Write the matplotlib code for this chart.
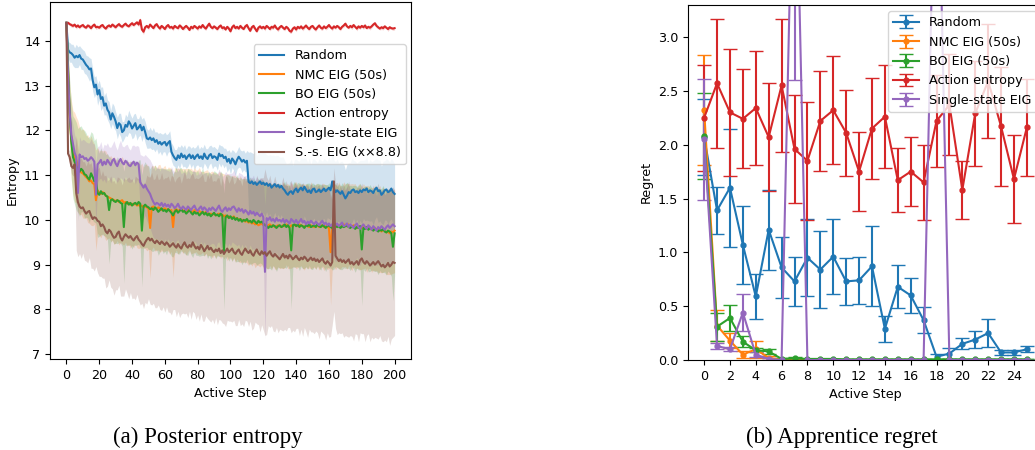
import numpy as np
import matplotlib
matplotlib.use("Agg")
import matplotlib.pyplot as plt

# ---------------- Left panel data: posterior entropy vs active step ----------------
steps_left = list(range(0, 201))

random_mean = [
    14.40, 13.80, 13.74, 13.72, 13.68, 13.62, 13.66, 13.63, 13.68, 13.60,
    13.58, 13.52, 13.46, 13.42, 13.36, 13.38, 13.12, 12.96, 13.02, 12.80,
    12.90, 12.70, 12.74, 12.55, 12.60, 12.46, 12.40, 12.24, 12.38, 12.30,
    12.20, 12.05, 12.16, 12.12, 11.96, 12.00, 12.12, 12.08, 12.20, 12.14,
    12.04, 12.10, 12.16, 12.02, 12.06, 12.12, 12.00, 12.08, 11.96, 11.82,
    11.80, 11.84, 11.78, 11.82, 11.74, 11.78, 11.70, 11.74, 11.68, 11.72,
    11.74, 11.66, 11.72, 11.76, 11.52, 11.44, 11.38, 11.34, 11.44, 11.38,
    11.48, 11.40, 11.44, 11.36, 11.42, 11.46, 11.38, 11.44, 11.36, 11.42,
    11.46, 11.38, 11.42, 11.36, 11.48, 11.40, 11.36, 11.44, 11.47, 11.38,
    11.42, 11.40, 11.34, 11.48, 11.42, 11.45, 11.38, 11.41, 11.30, 11.36,
    11.26, 11.37, 11.32, 11.24, 11.34, 11.41, 11.36, 11.30, 11.34, 11.28,
    11.32, 10.85, 10.82, 10.86, 10.80, 10.84, 10.78, 10.82, 10.86, 10.80,
    10.83, 10.78, 10.82, 10.76, 10.80, 10.72, 10.76, 10.80, 10.74, 10.78,
    10.72, 10.76, 10.70, 10.66, 10.60, 10.56, 10.62, 10.64, 10.58, 10.66,
    10.70, 10.62, 10.68, 10.72, 10.66, 10.74, 10.68, 10.62, 10.66, 10.60,
    10.68, 10.70, 10.62, 10.64, 10.68, 10.62, 10.66, 10.70, 10.64, 10.68,
    10.72, 10.66, 10.86, 10.70, 10.62, 10.66, 10.62, 10.58, 10.64, 10.56,
    10.48, 10.54, 10.62, 10.60, 10.66, 10.68, 10.62, 10.64, 10.60, 10.66,
    10.62, 10.68, 10.66, 10.70, 10.62, 10.66, 10.64, 10.60, 10.68, 10.72,
    10.64, 10.66, 10.56, 10.60, 10.66, 10.68, 10.62, 10.64, 10.70, 10.62,
    10.58]
random_sd = [
    0.00, 0.18, 0.22, 0.20, 0.24, 0.22, 0.26, 0.23, 0.21, 0.24,
    0.22, 0.25, 0.21, 0.24, 0.26, 0.22, 0.25, 0.23, 0.20, 0.24,
    0.22, 0.26, 0.23, 0.21, 0.25, 0.22, 0.24, 0.20, 0.23, 0.25,
    0.21, 0.24, 0.22, 0.26, 0.23, 0.20, 0.24, 0.22, 0.25, 0.21,
    0.23, 0.26, 0.22, 0.24, 0.20, 0.23, 0.25, 0.21, 0.24, 0.22,
    0.20, 0.23, 0.21, 0.24, 0.22, 0.19, 0.23, 0.21, 0.24, 0.20,
    0.22, 0.24, 0.21, 0.23, 0.20, 0.22, 0.19, 0.23, 0.21, 0.24,
    0.20, 0.22, 0.24, 0.21, 0.23, 0.19, 0.22, 0.20, 0.24, 0.21,
    0.23, 0.20, 0.22, 0.24, 0.21, 0.19, 0.23, 0.21, 0.20, 0.24,
    0.22, 0.20, 0.23, 0.21, 0.24, 0.20, 0.22, 0.19, 0.23, 0.21,
    0.24, 0.20, 0.22, 0.25, 0.21, 0.23, 0.20, 0.24, 0.22, 0.21,
    0.23, 0.66, 0.70, 0.64, 0.68, 0.72, 0.65, 0.69, 0.63, 0.70,
    0.67, 0.71, 0.64, 0.68, 0.66, 0.72, 0.69, 0.63, 0.70, 0.66,
    0.68, 0.64, 0.71, 0.67, 0.65, 0.70, 0.66, 0.72, 0.64, 0.69,
    0.66, 0.70, 0.63, 0.68, 0.71, 0.65, 0.69, 0.67, 0.72, 0.64,
    0.68, 0.66, 0.70, 0.64, 0.69, 0.72, 0.65, 0.67, 0.70, 0.63,
    0.69, 0.66, 0.71, 0.64, 0.68, 0.70, 0.65, 0.72, 0.67, 0.69,
    0.64, 0.70, 0.66, 0.68, 0.72, 0.65, 0.69, 0.63, 0.70, 0.67,
    0.71, 0.65, 0.68, 0.70, 0.64, 0.69, 0.66, 0.72, 0.67, 0.65,
    0.70, 0.68, 0.64, 0.71, 0.66, 0.69, 0.72, 0.65, 0.68, 0.70,
    0.67]

nmc_mean = [
    14.40, 13.30, 12.30, 11.80, 11.50, 11.40, 11.34, 11.20, 11.10, 11.06,
    11.04, 11.00, 10.96, 10.92, 10.86, 10.88, 10.82, 10.80, 10.44, 10.66,
    10.60, 10.58, 10.62, 10.60, 10.54, 10.52, 10.50, 10.48, 10.46, 10.44,
    10.42, 10.44, 10.40, 10.42, 10.44, 10.38, 10.40, 10.36, 10.38, 10.34,
    10.36, 10.34, 10.37, 10.32, 10.34, 10.30, 10.32, 10.28, 10.30, 10.28,
    10.26, 9.82, 10.28, 10.30, 10.26, 10.24, 10.28, 10.26, 10.22, 10.24,
    10.26, 10.22, 10.24, 10.20, 10.22, 9.84, 10.22, 10.24, 10.20, 10.22,
    10.24, 10.20, 10.22, 10.18, 10.22, 10.24, 10.20, 10.18, 10.22, 10.20,
    10.18, 10.20, 10.16, 10.18, 10.14, 10.18, 10.16, 10.12, 10.14, 10.12,
    10.14, 10.10, 10.12, 10.14, 10.10, 10.12, 10.08, 10.10, 10.06, 10.08,
    10.06, 10.04, 10.08, 10.02, 10.04, 10.00, 10.02, 9.98, 10.00, 9.96,
    9.98, 9.94, 9.96, 9.92, 9.94, 9.90, 9.92, 9.88, 9.90, 9.92,
    9.88, 9.90, 9.86, 9.88, 9.90, 9.86, 9.88, 9.84, 9.86, 9.88,
    9.86, 9.84, 9.88, 9.86, 9.90, 9.86, 9.84, 9.88, 9.86, 9.90,
    9.88, 9.86, 9.90, 9.88, 9.86, 9.84, 9.88, 9.86, 9.84, 9.88,
    9.86, 9.84, 9.86, 9.88, 9.84, 9.86, 9.88, 9.84, 9.86, 9.84,
    9.82, 9.28, 9.86, 9.88, 9.84, 9.86, 9.88, 9.84, 9.86, 9.90,
    9.88, 9.86, 9.90, 9.86, 9.84, 9.88, 9.86, 9.82, 9.86, 9.84,
    9.82, 9.86, 9.84, 9.80, 9.84, 9.82, 9.78, 9.80, 9.82, 9.78,
    9.76, 9.80, 9.74, 9.78, 9.76, 9.72, 9.74, 9.70, 9.74, 9.72,
    9.76]
nmc_sd = [
    0.00, 0.50, 0.75, 0.88, 0.94, 1.00, 0.96, 1.02, 0.98, 0.94,
    1.00, 0.96, 0.92, 0.98, 0.94, 1.00, 0.95, 0.90, 1.12, 0.96,
    0.94, 0.98, 0.92, 0.96, 1.00, 0.94, 0.90, 0.96, 0.92, 0.98,
    0.94, 0.90, 0.96, 0.92, 0.98, 0.94, 0.90, 0.95, 0.92, 0.97,
    0.93, 0.96, 0.90, 0.94, 0.98, 0.92, 0.95, 0.90, 0.94, 0.97,
    0.92, 1.12, 0.94, 0.90, 0.96, 0.92, 0.95, 0.98, 0.91, 0.94,
    0.96, 0.90, 0.94, 0.97, 0.92, 1.12, 0.95, 0.91, 0.96, 0.93,
    0.90, 0.95, 0.92, 0.97, 0.93, 0.90, 0.96, 0.92, 0.95, 0.91,
    0.94, 0.97, 0.92, 0.90, 0.95, 0.93, 0.96, 0.91, 0.94, 0.97,
    0.92, 0.95, 0.90, 0.94, 0.96, 0.92, 0.95, 0.91, 0.97, 0.93,
    0.90, 0.95, 0.92, 0.96, 0.91, 0.94, 0.97, 0.92, 0.95, 0.90,
    0.94, 0.96, 0.92, 0.95, 0.91, 0.97, 0.93, 0.90, 0.95, 0.92,
    0.96, 0.91, 0.94, 0.97, 0.92, 0.95, 0.90, 0.94, 0.96, 0.92,
    0.95, 0.91, 0.97, 0.93, 0.90, 0.95, 0.92, 0.96, 0.91, 0.94,
    0.97, 0.92, 0.95, 0.90, 0.94, 0.96, 0.92, 0.95, 0.91, 0.97,
    0.93, 0.90, 0.95, 0.92, 0.96, 0.91, 0.94, 0.97, 0.92, 0.95,
    0.90, 1.18, 0.96, 0.92, 0.95, 0.91, 0.97, 0.93, 0.90, 0.95,
    0.92, 0.96, 0.91, 0.94, 0.97, 0.92, 0.95, 0.90, 0.94, 0.96,
    0.92, 0.95, 0.91, 0.97, 0.93, 0.90, 0.95, 0.92, 0.96, 0.91,
    0.94, 0.97, 0.92, 0.95, 0.90, 0.94, 0.96, 0.92, 0.95, 0.91,
    0.94]

bo_mean = [
    14.40, 13.40, 12.40, 11.75, 11.40, 11.30, 11.20, 11.10, 11.08, 11.14,
    11.10, 11.02, 11.00, 10.94, 10.90, 11.04, 10.96, 10.86, 10.88, 10.60,
    10.56, 10.64, 10.58, 10.60, 10.54, 10.52, 10.22, 10.44, 10.46, 10.42,
    10.40, 10.44, 10.42, 10.38, 10.36, 9.84, 10.36, 10.40, 10.34, 10.38,
    10.32, 10.36, 10.38, 10.34, 10.40, 10.36, 9.76, 10.30, 10.34, 10.30,
    10.28, 10.24, 10.26, 10.22, 10.28, 10.24, 10.18, 10.22, 10.26, 10.20,
    10.22, 10.18, 10.24, 10.20, 10.16, 10.10, 10.18, 10.22, 10.16, 10.20,
    10.24, 10.18, 10.20, 10.14, 10.18, 10.22, 10.16, 10.12, 10.18, 10.14,
    10.16, 10.10, 10.14, 10.18, 10.12, 10.16, 10.10, 10.14, 10.08, 10.12,
    10.16, 10.10, 10.12, 10.08, 10.14, 10.10, 9.30, 10.06, 10.10, 10.04,
    10.08, 10.02, 10.06, 10.00, 10.04, 9.98, 10.02, 9.96, 10.00, 9.98,
    10.02, 9.96, 9.98, 9.94, 10.00, 9.96, 9.92, 9.98, 9.94, 9.96,
    9.92, 9.88, 9.86, 9.82, 9.86, 9.84, 9.88, 9.86, 9.82, 9.86,
    9.88, 9.84, 9.86, 9.90, 9.84, 9.88, 9.82, 9.32, 9.88, 9.90,
    9.86, 9.90, 9.84, 9.88, 9.86, 9.82, 9.88, 9.86, 9.90, 9.84,
    9.86, 9.88, 9.84, 9.90, 9.86, 9.84, 9.88, 9.86, 9.82, 9.86,
    9.88, 9.84, 9.82, 9.86, 9.88, 9.84, 9.86, 9.82, 9.86, 9.84,
    9.86, 9.88, 9.84, 9.82, 9.86, 9.84, 9.80, 9.84, 9.82, 9.86,
    9.34, 9.82, 9.80, 9.84, 9.78, 9.82, 9.80, 9.76, 9.80, 9.78,
    9.74, 9.78, 9.76, 9.80, 9.74, 9.72, 9.76, 9.74, 9.70, 9.40,
    9.70]
bo_sd = [
    0.00, 0.48, 0.72, 0.86, 0.92, 0.96, 0.98, 0.94, 1.00, 0.96,
    0.92, 0.98, 0.94, 0.90, 0.96, 0.93, 0.97, 0.91, 0.95, 0.99,
    0.93, 0.97, 0.91, 0.95, 0.92, 0.96, 1.20, 0.94, 0.90, 0.96,
    0.92, 0.97, 0.93, 0.90, 0.95, 1.25, 0.93, 0.96, 0.91, 0.94,
    0.97, 0.92, 0.95, 0.90, 0.94, 0.98, 1.25, 0.93, 0.96, 0.91,
    0.94, 0.90, 0.96, 0.92, 0.95, 0.91, 0.97, 0.93, 0.90, 0.95,
    0.92, 0.96, 0.90, 0.94, 0.97, 0.93, 0.91, 0.95, 0.92, 0.96,
    0.93, 0.90, 0.95, 0.92, 0.97, 0.91, 0.94, 0.96, 0.90, 0.93,
    0.95, 0.91, 0.94, 0.97, 0.92, 0.90, 0.96, 0.93, 0.95, 0.91,
    0.94, 0.97, 0.92, 0.90, 0.95, 0.93, 1.30, 0.94, 0.91, 0.96,
    0.92, 0.95, 0.90, 0.94, 0.97, 0.91, 0.93, 0.96, 0.92, 0.95,
    0.90, 0.94, 0.97, 0.92, 0.95, 0.91, 0.93, 0.96, 0.90, 0.94,
    0.97, 0.92, 0.95, 0.91, 0.94, 0.96, 0.90, 0.93, 0.97, 0.92,
    0.95, 0.91, 0.94, 0.96, 0.92, 0.90, 0.95, 1.30, 0.93, 0.96,
    0.91, 0.94, 0.97, 0.92, 0.95, 0.90, 0.93, 0.96, 0.92, 0.94,
    0.97, 0.91, 0.95, 0.92, 0.94, 0.96, 0.90, 0.93, 0.97, 0.92,
    0.95, 0.91, 0.94, 0.96, 0.92, 0.90, 0.95, 0.93, 0.97, 0.91,
    0.94, 0.96, 0.92, 0.95, 0.90, 0.93, 0.97, 0.91, 0.94, 0.96,
    1.25, 0.92, 0.95, 0.91, 0.94, 0.97, 0.92, 0.90, 0.95, 0.93,
    0.96, 0.91, 0.94, 0.97, 0.92, 0.95, 0.90, 0.93, 0.96, 1.20,
    0.94]

action_mean = [
    14.38, 14.40, 14.37, 14.35, 14.33, 14.36, 14.31, 14.34, 14.30, 14.33,
    14.35, 14.31, 14.29, 14.34, 14.32, 14.28, 14.33, 14.36, 14.30, 14.31,
    14.29, 14.33, 14.35, 14.30, 14.27, 14.32, 14.34, 14.31, 14.36, 14.33,
    14.30, 14.34, 14.37, 14.33, 14.31, 14.35, 14.38, 14.34, 14.32, 14.36,
    14.39, 14.35, 14.38, 14.41, 14.36, 14.46, 14.25, 14.20, 14.30, 14.33,
    14.29, 14.36, 14.32, 14.28, 14.34, 14.37, 14.31, 14.27, 14.33, 14.30,
    14.26, 14.32, 14.35, 14.29, 14.31, 14.27, 14.33, 14.30, 14.28, 14.34,
    14.31, 14.26, 14.30, 14.33, 14.29, 14.24, 14.31, 14.28, 14.33, 14.30,
    14.27, 14.32, 14.29, 14.35, 14.30, 14.27, 14.33, 14.38, 14.31, 14.28,
    14.32, 14.29, 14.26, 14.31, 14.34, 14.28, 14.30, 14.25, 14.31, 14.27,
    14.21, 14.30, 14.34, 14.28, 14.31, 14.27, 14.33, 14.29, 14.26, 14.32,
    14.35, 14.28, 14.22, 14.30, 14.33, 14.27, 14.21, 14.29, 14.32, 14.28,
    14.31, 14.27, 14.33, 14.30, 14.26, 14.31, 14.29, 14.34, 14.28, 14.25,
    14.30, 14.33, 14.29, 14.26, 14.31, 14.28, 14.22, 14.20, 14.27, 14.30,
    14.25, 14.31, 14.28, 14.32, 14.27, 14.30, 14.34, 14.29, 14.26, 14.31,
    14.33, 14.28, 14.25, 14.30, 14.34, 14.29, 14.27, 14.32, 14.28, 14.31,
    14.35, 14.30, 14.27, 14.32, 14.29, 14.33, 14.30, 14.26, 14.31, 14.34,
    14.38, 14.32, 14.29, 14.33, 14.30, 14.35, 14.31, 14.27, 14.32, 14.29,
    14.33, 14.30, 14.34, 14.28, 14.31, 14.29, 14.32, 14.36, 14.39, 14.33,
    14.30, 14.27, 14.30, 14.28, 14.32, 14.29, 14.26, 14.30, 14.28, 14.27,
    14.28]
action_sd = [
    0.00, 0.04, 0.03, 0.05, 0.04, 0.03, 0.05, 0.04, 0.04, 0.03,
    0.05, 0.04, 0.03, 0.04, 0.05, 0.04, 0.03, 0.04, 0.05, 0.04,
    0.03, 0.05, 0.04, 0.04, 0.03, 0.05, 0.04, 0.03, 0.04, 0.05,
    0.04, 0.03, 0.05, 0.04, 0.04, 0.03, 0.05, 0.04, 0.03, 0.04,
    0.05, 0.04, 0.03, 0.04, 0.05, 0.06, 0.05, 0.06, 0.04, 0.03,
    0.05, 0.04, 0.03, 0.04, 0.05, 0.04, 0.03, 0.05, 0.04, 0.04,
    0.03, 0.05, 0.04, 0.03, 0.04, 0.05, 0.04, 0.03, 0.04, 0.05,
    0.04, 0.03, 0.05, 0.04, 0.04, 0.03, 0.05, 0.04, 0.03, 0.04,
    0.05, 0.04, 0.03, 0.04, 0.05, 0.04, 0.03, 0.05, 0.04, 0.04,
    0.03, 0.05, 0.04, 0.03, 0.04, 0.05, 0.04, 0.03, 0.04, 0.05,
    0.04, 0.03, 0.05, 0.04, 0.04, 0.03, 0.05, 0.04, 0.03, 0.04,
    0.05, 0.04, 0.03, 0.04, 0.05, 0.04, 0.03, 0.05, 0.04, 0.04,
    0.03, 0.05, 0.04, 0.03, 0.04, 0.05, 0.04, 0.03, 0.04, 0.05,
    0.04, 0.03, 0.05, 0.04, 0.04, 0.03, 0.05, 0.04, 0.03, 0.04,
    0.05, 0.04, 0.03, 0.04, 0.05, 0.04, 0.03, 0.05, 0.04, 0.04,
    0.03, 0.05, 0.04, 0.03, 0.04, 0.05, 0.04, 0.03, 0.04, 0.05,
    0.04, 0.03, 0.05, 0.04, 0.04, 0.03, 0.05, 0.04, 0.03, 0.04,
    0.05, 0.04, 0.03, 0.04, 0.05, 0.04, 0.03, 0.05, 0.04, 0.04,
    0.03, 0.05, 0.04, 0.03, 0.04, 0.05, 0.04, 0.03, 0.04, 0.05,
    0.04, 0.03, 0.05, 0.04, 0.04, 0.03, 0.05, 0.04, 0.03, 0.04,
    0.04]

single_mean = [
    14.40, 13.20, 12.40, 11.90, 11.70, 11.50, 11.40, 10.60, 11.46, 11.40,
    11.42, 11.36, 11.38, 11.32, 11.35, 11.40, 11.36, 11.30, 10.56, 11.24,
    11.28, 11.34, 11.22, 11.30, 11.24, 11.34, 11.28, 11.22, 11.32, 11.36,
    11.26, 11.20, 11.30, 11.36, 11.28, 11.24, 11.32, 11.28, 11.22, 11.20,
    11.26, 11.30, 11.22, 11.28, 11.24, 10.84, 10.78, 10.72, 10.78, 10.70,
    10.64, 10.58, 10.48, 10.40, 10.34, 10.38, 10.36, 10.32, 10.38, 10.30,
    10.36, 10.30, 10.34, 10.28, 10.36, 10.32, 10.26, 10.30, 10.36, 10.28,
    10.24, 10.30, 10.26, 10.22, 10.30, 10.26, 10.22, 10.28, 10.32, 10.24,
    10.20, 10.26, 10.30, 10.22, 10.28, 10.24, 10.18, 10.26, 10.22, 10.28,
    10.24, 10.20, 10.26, 10.32, 10.22, 10.18, 10.24, 10.28, 10.20, 10.26,
    10.22, 10.28, 10.30, 10.24, 10.18, 10.26, 10.20, 10.24, 10.16, 10.22,
    10.18, 10.12, 10.20, 10.14, 10.18, 10.10, 10.16, 10.12, 10.08, 10.14,
    10.06, 8.84, 10.04, 10.00, 10.06, 9.98, 10.02, 9.96, 10.04, 9.98,
    10.00, 9.96, 10.02, 9.94, 10.00, 9.96, 9.92, 10.02, 9.98, 9.94,
    10.00, 9.92, 9.96, 10.02, 9.94, 9.98, 9.90, 9.96, 9.92, 9.98,
    9.94, 9.90, 9.96, 9.92, 9.88, 9.94, 9.98, 9.90, 9.94, 9.88,
    9.92, 9.86, 9.90, 9.96, 9.88, 9.92, 9.86, 9.90, 9.94, 9.86,
    9.88, 9.92, 9.84, 9.90, 9.86, 9.82, 9.88, 9.92, 9.84, 9.80,
    9.86, 9.90, 9.84, 9.80, 9.88, 9.84, 9.78, 9.86, 9.82, 9.76,
    9.84, 9.80, 9.86, 9.82, 9.78, 9.84, 9.88, 9.82, 9.86, 9.90,
    9.86]
single_sd = [
    0.00, 0.30, 0.36, 0.40, 0.42, 0.40, 0.38, 0.62, 0.40, 0.36,
    0.38, 0.42, 0.36, 0.40, 0.37, 0.41, 0.35, 0.39, 0.70, 0.40,
    0.37, 0.41, 0.36, 0.39, 0.42, 0.38, 0.35, 0.40, 0.37, 0.41,
    0.38, 0.36, 0.40, 0.42, 0.37, 0.39, 0.35, 0.41, 0.38, 0.36,
    0.40, 0.37, 0.42, 0.38, 0.40, 0.62, 0.66, 0.70, 0.68, 0.72,
    0.74, 0.76, 0.78, 0.80, 0.76, 0.79, 0.82, 0.77, 0.80, 0.83,
    0.78, 0.81, 0.76, 0.80, 0.83, 0.78, 0.82, 0.77, 0.80, 0.84,
    0.79, 0.76, 0.81, 0.78, 0.83, 0.80, 0.77, 0.82, 0.79, 0.76,
    0.81, 0.84, 0.78, 0.80, 0.77, 0.82, 0.79, 0.83, 0.76, 0.80,
    0.78, 0.82, 0.77, 0.81, 0.84, 0.79, 0.76, 0.80, 0.83, 0.78,
    0.81, 0.77, 0.82, 0.79, 0.76, 0.80, 0.84, 0.78, 0.81, 0.77,
    0.83, 0.79, 0.76, 0.80, 0.82, 0.78, 0.81, 0.77, 0.84, 0.79,
    0.80, 1.50, 0.82, 0.78, 0.81, 0.77, 0.83, 0.79, 0.76, 0.80,
    0.82, 0.78, 0.81, 0.84, 0.77, 0.80, 0.79, 0.83, 0.76, 0.81,
    0.78, 0.82, 0.77, 0.80, 0.84, 0.79, 0.76, 0.81, 0.78, 0.83,
    0.80, 0.77, 0.82, 0.79, 0.76, 0.80, 0.84, 0.78, 0.81, 0.77,
    0.83, 0.79, 0.76, 0.80, 0.82, 0.78, 0.81, 0.77, 0.84, 0.79,
    0.80, 0.82, 0.78, 0.81, 0.77, 0.83, 0.79, 0.76, 0.80, 0.82,
    0.78, 0.81, 0.84, 0.77, 0.80, 0.79, 0.83, 0.76, 0.81, 0.78,
    0.82, 0.77, 0.80, 0.84, 0.79, 0.76, 0.81, 0.78, 0.83, 0.80,
    0.79]

ssx_mean = [
    14.40, 11.48, 11.40, 11.20, 11.16, 11.24, 10.60, 10.40, 10.30, 10.26,
    10.28, 10.20, 10.14, 10.18, 10.20, 10.10, 10.02, 10.06, 10.04, 9.98,
    9.96, 9.86, 9.90, 9.84, 9.74, 9.70, 9.78, 9.74, 9.66, 9.60,
    9.62, 9.70, 9.74, 9.60, 9.54, 9.62, 9.68, 9.64, 9.60, 9.64,
    9.58, 9.54, 9.60, 9.64, 9.56, 9.52, 9.46, 9.42, 9.50, 9.56,
    9.60, 9.54, 9.58, 9.52, 9.48, 9.54, 9.50, 9.46, 9.52, 9.48,
    9.44, 9.50, 9.46, 9.40, 9.44, 9.48, 9.42, 9.38, 9.46, 9.40,
    9.36, 9.44, 9.50, 9.42, 9.38, 9.44, 9.40, 9.50, 9.42, 9.36,
    9.40, 9.34, 9.44, 9.38, 9.30, 9.36, 9.42, 9.34, 9.38, 9.32,
    9.28, 9.34, 9.30, 9.36, 9.26, 9.32, 9.24, 9.30, 9.36, 9.28,
    9.32, 9.36, 9.28, 9.24, 9.30, 9.34, 9.26, 9.22, 9.30, 9.36,
    9.30, 9.26, 9.32, 9.24, 9.20, 9.28, 9.34, 9.26, 9.22, 9.30,
    9.24, 9.28, 9.20, 9.26, 9.30, 9.22, 9.18, 9.24, 9.20, 9.16,
    9.12, 9.18, 9.24, 9.16, 9.20, 9.14, 9.22, 9.18, 9.12, 9.16,
    9.20, 9.14, 9.10, 9.16, 9.12, 9.18, 9.14, 9.08, 9.12, 9.16,
    9.10, 9.14, 9.08, 9.12, 9.06, 9.10, 9.14, 9.06, 9.02, 9.08,
    9.04, 8.98, 9.06, 10.86, 9.20, 9.14, 9.08, 9.12, 9.06, 9.10,
    9.04, 9.08, 9.12, 9.02, 9.06, 9.00, 9.04, 9.08, 9.00, 9.10,
    9.14, 9.06, 9.02, 9.08, 9.04, 8.98, 9.02, 9.06, 9.00, 9.04,
    9.08, 9.02, 8.96, 9.00, 8.94, 8.98, 9.04, 8.96, 9.00, 9.06,
    9.04]
# spread below the mean (lower edge of the shaded band)
ssx_sd_low = [
    0.00, 0.10, 0.14, 0.16, 0.18, 0.22, 1.28, 1.22, 1.05, 1.12,
    1.02, 1.10, 1.06, 1.14, 1.04, 1.18, 1.10, 1.20, 1.08, 1.16,
    1.22, 1.12, 1.20, 1.14, 1.26, 1.18, 1.12, 1.24, 1.20, 1.28,
    1.18, 1.26, 1.20, 1.30, 1.24, 1.32, 1.22, 1.28, 1.36, 1.26,
    1.34, 1.28, 1.38, 1.30, 1.36, 1.42, 1.32, 1.40, 1.34, 1.44,
    1.36, 1.42, 1.48, 1.38, 1.44, 1.50, 1.40, 1.46, 1.54, 1.42,
    1.50, 1.44, 1.52, 1.46, 1.56, 1.48, 1.42, 1.54, 1.50, 1.58,
    1.46, 1.52, 1.60, 1.50, 1.56, 1.48, 1.62, 1.54, 1.50, 1.58,
    1.52, 1.60, 1.54, 1.64, 1.56, 1.50, 1.62, 1.58, 1.66, 1.54,
    1.60, 1.52, 1.64, 1.58, 1.50, 1.62, 1.56, 1.68, 1.60, 1.54,
    1.58, 1.64, 1.52, 1.60, 1.66, 1.56, 1.62, 1.54, 1.68, 1.60,
    1.56, 1.64, 1.58, 1.70, 1.62, 1.56, 1.66, 1.60, 1.72, 1.64,
    1.70, 1.86, 1.76, 1.62, 1.70, 1.58, 1.66, 1.74, 1.60, 1.68,
    1.56, 1.64, 1.72, 1.60, 1.68, 1.54, 1.62, 1.70, 1.58, 1.66,
    1.62, 1.56, 1.68, 1.60, 1.72, 1.58, 1.64, 1.70, 1.56, 1.66,
    1.60, 1.68, 1.56, 1.64, 1.72, 1.58, 1.66, 1.62, 1.70, 1.60,
    1.66, 1.58, 1.40, 2.90, 1.62, 1.70, 1.60, 1.66, 1.58, 1.72,
    1.62, 1.68, 1.74, 1.60, 1.66, 1.70, 1.58, 1.64, 1.72, 1.62,
    1.68, 1.60, 1.74, 1.66, 1.58, 1.70, 1.64, 1.72, 1.62, 1.68,
    1.74, 1.60, 1.66, 1.72, 1.62, 1.70, 1.64, 1.76, 1.66, 1.68,
    1.62]
# spread above the mean (upper edge of the shaded band)
ssx_sd_high = list(ssx_sd_low)
ssx_sd_high[163] = 0.30

left_labels = ["Random", "NMC EIG (50s)", "BO EIG (50s)", "Action entropy",
               "Single-state EIG", "S.-s. EIG (x\u00d78.8)"]
left_means = [random_mean, nmc_mean, bo_mean, action_mean, single_mean, ssx_mean]
left_lows = [random_sd, nmc_sd, bo_sd, action_sd, single_sd, ssx_sd_low]
left_highs = [random_sd, nmc_sd, bo_sd, action_sd, single_sd, ssx_sd_high]

# ---------------- Right panel data: apprentice regret vs active step ----------------
steps_right = list(range(0, 26))

regret_random = [2.07, 1.39, 1.60, 1.07, 0.59, 1.21, 0.86, 0.73, 0.95, 0.84,
                 0.96, 0.73, 0.74, 0.87, 0.29, 0.68, 0.60, 0.37, 0.03, 0.06,
                 0.15, 0.19, 0.25, 0.07, 0.07, 0.10]
regret_random_err = [0.35, 0.22, 0.55, 0.36, 0.21, 0.37, 0.28, 0.23, 0.36, 0.36,
                     0.35, 0.22, 0.22, 0.37, 0.12, 0.20, 0.16, 0.12, 0.03, 0.05,
                     0.05, 0.08, 0.13, 0.02, 0.02, 0.03]
regret_nmc = [2.32, 0.32, 0.18, 0.05, 0.10, 0.02, 0.00, 0.00, 0.00, 0.00,
              0.00, 0.00, 0.00, 0.00, 0.00, 0.00, 0.00, 0.00, 0.00, 0.00,
              0.00, 0.00, 0.00, 0.00, 0.00, 0.00]
regret_nmc_err = [0.51, 0.14, 0.07, 0.03, 0.08, 0.02, 0.00, 0.00, 0.00, 0.00,
                  0.00, 0.00, 0.00, 0.00, 0.00, 0.00, 0.00, 0.00, 0.00, 0.00,
                  0.00, 0.00, 0.00, 0.00, 0.00, 0.00]
regret_bo = [2.08, 0.31, 0.39, 0.17, 0.09, 0.08, 0.01, 0.015, 0.01, 0.01,
             0.01, 0.005, 0.005, 0.005, 0.005, 0.005, 0.005, 0.005, 0.005, 0.005,
             0.005, 0.005, 0.005, 0.005, 0.005, 0.005]
regret_bo_err = [0.40, 0.13, 0.12, 0.05, 0.02, 0.02, 0.01, 0.01, 0.00, 0.00,
                 0.00, 0.00, 0.00, 0.00, 0.00, 0.00, 0.00, 0.00, 0.00, 0.00,
                 0.00, 0.00, 0.00, 0.00, 0.00, 0.00]
regret_action = [2.25, 2.57, 2.30, 2.24, 2.34, 2.07, 2.55, 1.96, 1.85, 2.22,
                 2.32, 2.11, 1.75, 2.15, 2.26, 1.67, 1.75, 1.65, 2.22, 2.37,
                 1.58, 2.29, 2.59, 2.17, 1.68, 2.16]
regret_action_err = [0.49, 0.60, 0.59, 0.46, 0.53, 0.50, 0.62, 0.50, 0.55, 0.46,
                     0.50, 0.40, 0.37, 0.47, 0.48, 0.30, 0.32, 0.35, 0.43, 0.47,
                     0.27, 0.49, 0.53, 0.55, 0.41, 0.45]
regret_single = [2.05, 0.13, 0.10, 0.44, 0.05, 0.01, 0.00, 5.40, 0.00, 0.00,
                 0.00, 0.00, 0.00, 0.00, 0.00, 0.00, 0.00, 0.00, 5.50, 0.00,
                 0.00, 0.00, 0.00, 0.00, 0.00, 0.00]
regret_single_err = [0.56, 0.03, 0.02, 0.17, 0.02, 0.01, 0.00, 2.80, 0.00, 0.00,
                     0.00, 0.00, 0.00, 0.00, 0.00, 0.00, 0.00, 0.00, 2.00, 0.00,
                     0.00, 0.00, 0.00, 0.00, 0.00, 0.00]

right_labels = ["Random", "NMC EIG (50s)", "BO EIG (50s)", "Action entropy",
                "Single-state EIG"]
right_means = [regret_random, regret_nmc, regret_bo, regret_action, regret_single]
right_errs = [regret_random_err, regret_nmc_err, regret_bo_err, regret_action_err,
              regret_single_err]

left_xticks = list(range(0, 201, 20))
left_yticks = [7, 8, 9, 10, 11, 12, 13, 14]
right_xticks = list(range(0, 25, 2))
right_yticks = [0.0, 0.5, 1.0, 1.5, 2.0, 2.5, 3.0]

colors = ["#1f77b4", "#ff7f0e", "#2ca02c", "#d62728", "#9467bd", "#8c564b"]

# ---------------- Figure ----------------
FS = 9.2
plt.rcParams["font.family"] = ["DejaVu Sans"]
W, H = 1035, 450
fig = plt.figure(figsize=(W / 100, H / 100), dpi=100)


def px_axes(left, top, right, bottom):
    return fig.add_axes([left / W, 1 - bottom / H, (right - left) / W, (bottom - top) / H])


axL = px_axes(50, 2, 411, 359)
x = np.array(steps_left)
for lab, m, lo, hi, c in zip(left_labels, left_means, left_lows, left_highs, colors):
    m = np.array(m)
    axL.plot(x, m, color=c, lw=1.5, label=lab)
    axL.fill_between(x, m - np.array(lo), m + np.array(hi), color=c, alpha=0.2, lw=0)
axL.set_xlim(-10, 210)
axL.set_ylim(6.895, 14.864)
axL.set_xticks(left_xticks)
axL.set_yticks(left_yticks)
axL.tick_params(labelsize=FS)
axL.set_xlabel("Active Step", fontsize=FS)
axL.set_ylabel("Entropy", fontsize=FS)
axL.legend(loc="upper right", bbox_to_anchor=(405.7 / W, 1 - 44 / H),
           bbox_transform=fig.transFigure, borderaxespad=0, fontsize=FS,
           labelspacing=0.5)

axR = px_axes(688, 4.7, 1043, 360)
xr = np.array(steps_right)
for lab, m, e, c in zip(right_labels, right_means, right_errs, colors):
    axR.errorbar(xr, m, yerr=e, fmt=".-", color=c, lw=1.5, capsize=5,
                 markersize=7, label=lab)
axR.set_xlim(-1.25, 26.25)
axR.set_ylim(0, 3.3)
axR.set_xticks(right_xticks)
axR.set_yticks(right_yticks)
axR.tick_params(labelsize=FS)
axR.set_xlabel("Active Step", fontsize=FS)
axR.set_ylabel("Regret", fontsize=FS)
axR.legend(loc="upper right", fontsize=FS, labelspacing=0.5)

fig.text(208 / W, 1 - 443 / H, "(a) Posterior entropy", ha="center", va="baseline",
         fontsize=16.5, family=["Liberation Serif", "DejaVu Serif"])
fig.text(842 / W, 1 - 443 / H, "(b) Apprentice regret", ha="center", va="baseline",
         fontsize=16.5, family=["Liberation Serif", "DejaVu Serif"])

fig.savefig("out.png", dpi=100)
